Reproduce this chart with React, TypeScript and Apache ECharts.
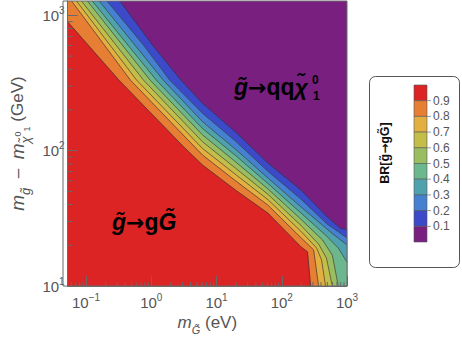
import React, { useEffect, useRef } from 'react';
import * as echarts from 'echarts';

// Axis extents
const X_MIN = 0.0522;
const X_MAX = 1000;
const Y_MIN = 10;
const Y_MAX = 1278;

// Contour levels of BR[g~ -> g G~] and band colours (band 0 = 0-0.1 ... band 9 = 0.9-1)
const levels = [0.1, 0.2, 0.3, 0.4, 0.5, 0.6, 0.7, 0.8, 0.9];
const bandColors = ['#791f80', '#3c4ac9', '#4680d1', '#4fa1ae', '#6cb78d', '#9bbd61', '#c3bd49', '#e2af40', '#e67e33', '#dc2425'];

// Contour lines: [m_G~ (eV), m_g~ - m_chi (GeV)]
const contour01 = [[0.329, 1278], [1.07, 594], [2.83, 333], [6.09, 224], [19.4, 138], [61.7, 80.7], [196, 51.3], [496, 32.5], [787, 26.7], [1000, 26.2]];
const contour02 = [[0.2095, 1278], [0.757, 604], [1.91, 333], [6.09, 189], [19.4, 118], [61.7, 70.3], [196, 43.9], [496, 28.7], [787, 24.6], [1000, 22.6]];
const contour03 = [[0.159, 1278], [1.52, 333], [6.09, 164], [19.4, 102.8], [61.7, 62.7], [196, 38.5], [556, 25.1], [1000, 20.1]];
const contour04 = [[0.1245, 1278], [1.19, 333], [6.09, 146], [19.4, 92.5], [61.7, 57.1], [196, 34.7], [468, 23.8], [735, 19.1], [1000, 15.0]];
const contour05 = [[0.105, 1278], [0.955, 333], [6.09, 131], [19.4, 83.0], [61.7, 52.1], [196, 31.2], [421, 21.9], [596, 16.9], [735, 10]];
const contour06 = [[0.0849, 1278], [0.757, 333], [6.09, 116.5], [19.4, 74.5], [61.7, 47.5], [196, 28.1], [367, 20.4], [484, 16.1], [596, 10]];
const contour07 = [[0.0714, 1278], [0.594, 333], [6.09, 104], [19.4, 67.0], [61.7, 43.4], [196, 25.4], [342, 19.1], [407, 15.6], [468, 10]];
const contour08 = [[0.060, 1278], [0.477, 333], [6.09, 92.9], [19.4, 60.1], [61.7, 39.5], [196, 22.8], [308, 18.5], [367, 10]];
const contour09 = [[0.0522, 897], [0.318, 333], [3.04, 108.4], [6.09, 78.4], [19.4, 51.3], [61.7, 34.5], [196, 19.5], [248, 17.9], [277, 10]];
const contours = [contour01, contour02, contour03, contour04, contour05, contour06, contour07, contour08, contour09];

// Minor tick values
const xMinorTicks = [0.06, 0.07, 0.08, 0.09, 0.2, 0.3, 0.4, 0.5, 0.6, 0.7, 0.8, 0.9, 2, 3, 4, 5, 6, 7, 8, 9, 20, 30, 40, 50, 60, 70, 80, 90, 200, 300, 400, 500, 600, 700, 800, 900];
const yMinorTicks = [20, 30, 40, 50, 60, 70, 80, 90, 200, 300, 400, 500, 600, 700, 800, 900];

const FONT = '"Liberation Sans", Arial, "DejaVu Sans", sans-serif';
const ARROW_FONT = '"DejaVu Sans", sans-serif';
const FRAME = '#6a6a6a';
const TXT = '#555555';

const GRID = { left: 63, top: 1, width: 284, height: 285 };

const tickRich = {
  b: { fontSize: 15, color: TXT, fontFamily: FONT, lineHeight: 20 },
  s: { fontSize: 10, color: TXT, fontFamily: FONT, verticalAlign: 'top', lineHeight: 9 },
};
const fmtPow = (v: number) => {
  const e = Math.round(Math.log10(v));
  return `{b|10}{s|${e < 0 ? '\u2212' + -e : e}}`;
};

const xNameRich = {
  i: { fontSize: 17, fontStyle: 'italic', color: TXT, fontFamily: FONT, lineHeight: 26 },
  n: { fontSize: 17, color: TXT, fontFamily: FONT, lineHeight: 26 },
  sub: { fontSize: 11, fontStyle: 'italic', color: TXT, fontFamily: FONT, lineHeight: 11, verticalAlign: 'bottom' },
};
const yNameRich = {
  i: { fontSize: 19, fontStyle: 'italic', color: TXT, fontFamily: FONT, lineHeight: 28 },
  n: { fontSize: 17, color: TXT, fontFamily: FONT, lineHeight: 28 },
  sub: { fontSize: 13, fontStyle: 'italic', color: TXT, fontFamily: FONT, lineHeight: 12, verticalAlign: 'bottom' },
  ss0: { fontSize: 9, color: TXT, fontFamily: FONT, lineHeight: 8, verticalAlign: 'middle' },
  ss1: { fontSize: 9, color: TXT, fontFamily: FONT, lineHeight: 6, verticalAlign: 'bottom' },
};

function bandSeries(line: number[][], color: string) {
  return {
    type: 'custom',
    coordinateSystem: 'cartesian2d',
    clip: true,
    silent: true,
    z: 2,
    data: line,
    renderItem: (params: any, api: any) => {
      if (params.dataIndex !== 0) return null;
      const pts = line.map((p) => api.coord(p));
      const first = line[0];
      const last = line[line.length - 1];
      const poly = pts.slice();
      if (last[0] >= X_MAX) poly.push(api.coord([X_MAX, Y_MIN]));
      poly.push(api.coord([X_MIN, Y_MIN]));
      if (first[1] >= Y_MAX) poly.push(api.coord([X_MIN, Y_MAX]));
      return {
        type: 'group',
        children: [
          { type: 'polygon', shape: { points: poly }, style: { fill: color, stroke: color, lineWidth: 0.4 } },
          { type: 'polyline', shape: { points: pts }, style: { fill: 'none', stroke: 'rgba(45,45,45,0.75)', lineWidth: 0.8 } },
        ],
      };
    },
  };
}

function buildLegend() {
  const boxX = 369.5, boxY = 76.5, boxW = 90, boxH = 191;
  const barX = 414, barTop = 85, barW = 13, segH = 15.7;
  const els: any[] = [
    { type: 'rect', shape: { x: boxX, y: boxY, width: boxW, height: boxH, r: 6 }, style: { fill: '#fff', stroke: '#555', lineWidth: 1 } },
  ];
  for (let j = 0; j < bandColors.length; j++) {
    els.push({
      type: 'rect',
      shape: { x: barX, y: barTop + j * segH, width: barW, height: segH },
      style: { fill: bandColors[bandColors.length - 1 - j], stroke: '#555', lineWidth: 0.6 },
    });
  }
  levels.forEach((L, i) => {
    const y = barTop + (levels.length - i) * segH;
    els.push({ type: 'line', shape: { x1: barX + barW, y1: y, x2: barX + barW + 4, y2: y }, style: { stroke: '#999', lineWidth: 1 } });
    els.push({
      type: 'text', x: barX + barW + 6, y,
      style: { text: L.toFixed(1), fontSize: 12, fontFamily: FONT, fill: TXT, align: 'left', verticalAlign: 'middle' },
    });
  });
  els.push({
    type: 'text', x: 385, y: 153, rotation: Math.PI / 2,
    style: {
      text: '{b|BR[g\u0303}{a|\u2192}{b|gG\u0303]}',
      rich: {
        b: { fontSize: 12.5, fontWeight: 'bold', fontFamily: FONT, fill: '#111' },
        a: { fontSize: 12, fontWeight: 'bold', fontFamily: ARROW_FONT, fill: '#111' },
      },
      align: 'center', verticalAlign: 'middle',
    },
  });
  return els;
}

const annRich = {
  i: { fontSize: 23, fontStyle: 'italic', fontWeight: 'bold', fontFamily: FONT, fill: '#000' },
  b: { fontSize: 23, fontWeight: 'bold', fontFamily: FONT, fill: '#000' },
  a: { fontSize: 22, fontWeight: 'bold', fontFamily: ARROW_FONT, fill: '#000' },
};

const option: any = {
  animation: false,
  grid: { ...GRID, show: true, backgroundColor: bandColors[0], borderWidth: 0 },
  xAxis: {
    type: 'log', logBase: 10, min: X_MIN, max: X_MAX, z: 10,
    axisLine: { show: true, lineStyle: { color: FRAME, width: 1 } },
    axisTick: { show: true, inside: true, length: 10, lineStyle: { color: FRAME, width: 1 } },
    axisLabel: { formatter: fmtPow, rich: tickRich, margin: 6, showMinLabel: false, showMaxLabel: true },
    splitLine: { show: false },
    minorTick: { show: false },
    name: '{i|m}{sub|G\u0303}{n| (eV)}',
    nameLocation: 'middle', nameGap: 18,
    nameTextStyle: { rich: xNameRich },
  },
  yAxis: {
    type: 'log', logBase: 10, min: Y_MIN, max: Y_MAX, z: 10,
    axisLine: { show: true, lineStyle: { color: FRAME, width: 1 } },
    axisTick: { show: true, inside: true, length: 10, lineStyle: { color: FRAME, width: 1 } },
    axisLabel: { formatter: fmtPow, rich: tickRich, margin: 3, showMinLabel: true, showMaxLabel: false },
    splitLine: { show: false },
    minorTick: { show: false },
    name: '{i|m}{sub|g\u0303}{n|  \u2013  }{i|m}{sub|\u03c7\u0303}{ss0|0}{ss1|1}{n| (GeV)}',
    nameLocation: 'middle', nameGap: 36, nameRotate: 90,
    nameTextStyle: { rich: yNameRich },
  },
  series: [
    ...contours.map((line, i) => bandSeries(line, bandColors[i + 1])),
    {
      type: 'custom', coordinateSystem: 'cartesian2d', clip: false, silent: true, z: 5,
      data: xMinorTicks.map((v) => [v, Y_MIN]),
      renderItem: (params: any, api: any) => {
        const p = api.coord([api.value(0), api.value(1)]);
        return { type: 'line', shape: { x1: p[0], y1: p[1], x2: p[0], y2: p[1] - 4 }, style: { stroke: FRAME, lineWidth: 1 } };
      },
    },
    {
      type: 'custom', coordinateSystem: 'cartesian2d', clip: false, silent: true, z: 5,
      data: yMinorTicks.map((v) => [X_MIN, v]),
      renderItem: (params: any, api: any) => {
        const p = api.coord([api.value(0), api.value(1)]);
        return { type: 'line', shape: { x1: p[0], y1: p[1], x2: p[0] + 5, y2: p[1] }, style: { stroke: FRAME, lineWidth: 1 } };
      },
    },
  ],
  graphic: [
    { type: 'rect', z: 100, silent: true, shape: { x: GRID.left, y: GRID.top, width: GRID.width, height: GRID.height }, style: { fill: 'none', stroke: FRAME, lineWidth: 1 } },
    { type: 'text', z: 100, x: 112, y: 222, style: { text: '{i|g\u0303}{a|\u2192}{b|g}{i|G\u0303}', rich: annRich, align: 'left', verticalAlign: 'middle' } },
    { type: 'text', z: 100, x: 234, y: 87, style: { text: '{i|g\u0303}{a|\u2192}{b|qq}{i|\u03c7\u0303}', rich: annRich, align: 'left', verticalAlign: 'middle' } },
    { type: 'text', z: 100, x: 312, y: 80, style: { text: '0', fontSize: 12, fontWeight: 'bold', fontFamily: FONT, fill: '#000', align: 'left', verticalAlign: 'middle' } },
    { type: 'text', z: 100, x: 313, y: 96, style: { text: '1', fontSize: 12, fontWeight: 'bold', fontFamily: FONT, fill: '#000', align: 'left', verticalAlign: 'middle' } },
    ...buildLegend(),
  ],
};

export default function App() {
  const ref = useRef<HTMLDivElement>(null);
  useEffect(() => {
    document.body.style.margin = '0';
    const chart = echarts.init(ref.current!, null, { renderer: 'svg' });
    chart.setOption(option);
    return () => chart.dispose();
  }, []);
  return <div ref={ref} style={{ width: 462, height: 345 }} />;
}
